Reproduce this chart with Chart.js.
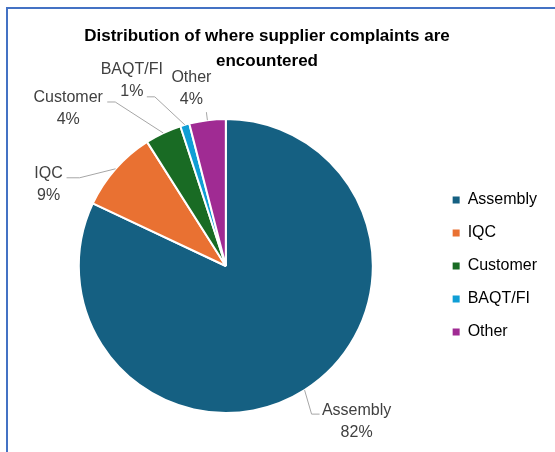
<!DOCTYPE html>
<html>
<head>
<meta charset="utf-8">
<script src="https://cdn.jsdelivr.net/npm/chart.js@4"></script>
<style>
  html, body { margin: 0; padding: 0; background: #fff; overflow: hidden; }
  #wrap { position: relative; width: 555px; height: 452px; overflow: hidden; }
  #c { position: absolute; left: 0; top: 0; }
  #frame {
    position: absolute; left: 6px; top: 7px; right: -20px; bottom: -20px;
    border-left: 2px solid #4472C4; border-top: 2px solid #4472C4;
    pointer-events: none;
  }
</style>
</head>
<body>
<div id="wrap">
  <canvas id="c" width="555" height="452"></canvas>
  <div id="frame"></div>
</div>
<script>
// Where supplier complaints are encountered (share of complaints, %)
const categories = ['Assembly', 'IQC', 'Customer', 'BAQT/FI', 'Other'];
const shares = [82, 9, 4, 1, 4];
const sliceColors = ['#156082', '#E97132', '#196B24', '#0F9ED5', '#A02B93'];
const titleLines = ['Distribution of where supplier complaints are', 'encountered'];

// Callout placement per slice: label block offset from the slice's outer edge
// point, leader end offset from the block centre, and a horizontal elbow.
const callouts = [
  { off: [52, 31],     end: [-37, -7],   elbow: -8 },
  { off: [-67, 16],    end: [18, -7],    elbow: 13 },
  { off: [-95, -24.5], end: [39, -6.5],  elbow: 8 },
  { off: [-53, -44],   end: [15, 16],    elbow: 8 },
  { off: [-16, -32],   end: [15, 24],    elbow: 0 }
];

// The title is centred over the chart frame rather than over the whole canvas.
const TITLE_RIGHT_INSET = 29;

const titleCentering = {
  id: 'titleCentering',
  afterLayout(chart) {
    const t = chart.titleBlock;
    if (t) { t.right -= TITLE_RIGHT_INSET; t.width = t.right - t.left; }
  }
};

const calloutPlugin = {
  id: 'callouts',
  afterDatasetsDraw(chart) {
    const ctx = chart.ctx;
    const meta = chart.getDatasetMeta(0);
    const values = chart.data.datasets[0].data;
    const total = values.reduce((a, b) => a + b, 0);
    meta.data.forEach((arc, i) => {
      const p = arc.getProps(['x', 'y', 'startAngle', 'endAngle', 'outerRadius'], true);
      const mid = (p.startAngle + p.endAngle) / 2;
      const ex = p.x + Math.cos(mid) * p.outerRadius;
      const ey = p.y + Math.sin(mid) * p.outerRadius;
      const c = callouts[i];
      const bx = ex + c.off[0], by = ey + c.off[1];
      const lx = bx + c.end[0], ly = by + c.end[1];
      ctx.save();
      ctx.strokeStyle = '#A6A6A6';
      ctx.lineWidth = 1;
      ctx.beginPath();
      ctx.moveTo(ex, ey);
      if (c.elbow) ctx.lineTo(lx + c.elbow, ly);
      ctx.lineTo(lx, ly);
      ctx.stroke();
      ctx.fillStyle = '#404040';
      ctx.font = '16px "Liberation Sans", Arial, sans-serif';
      ctx.textAlign = 'center';
      ctx.textBaseline = 'middle';
      ctx.fillText(chart.data.labels[i], bx, by - 11);
      ctx.fillText(Math.round(values[i] / total * 100) + '%', bx, by + 11);
      ctx.restore();
    });
  }
};

new Chart(document.getElementById('c'), {
  type: 'pie',
  data: {
    labels: categories,
    datasets: [{
      data: shares,
      backgroundColor: sliceColors,
      borderColor: '#ffffff',
      borderWidth: 2
    }]
  },
  options: {
    responsive: false,
    animation: false,
    layout: { padding: { left: 16, right: 8, top: 0, bottom: 38 } },
    plugins: {
      title: {
        display: true,
        text: titleLines,
        color: '#000000',
        font: { family: '"Liberation Sans", Arial, sans-serif', size: 17, weight: 'bold', lineHeight: 25 / 17 },
        padding: { top: 24, bottom: 44 }
      },
      legend: {
        position: 'right',
        fullSize: false,
        labels: {
          boxWidth: 7,
          boxHeight: 7,
          padding: 17,
          color: '#000000',
          font: { family: '"Liberation Sans", Arial, sans-serif', size: 16 },
          generateLabels(chart) {
            return Chart.overrides.pie.plugins.legend.labels.generateLabels(chart)
              .map(item => Object.assign(item, { lineWidth: 0 }));
          }
        }
      },
      tooltip: { enabled: false }
    }
  },
  plugins: [titleCentering, calloutPlugin]
});
</script>
</body>
</html>
